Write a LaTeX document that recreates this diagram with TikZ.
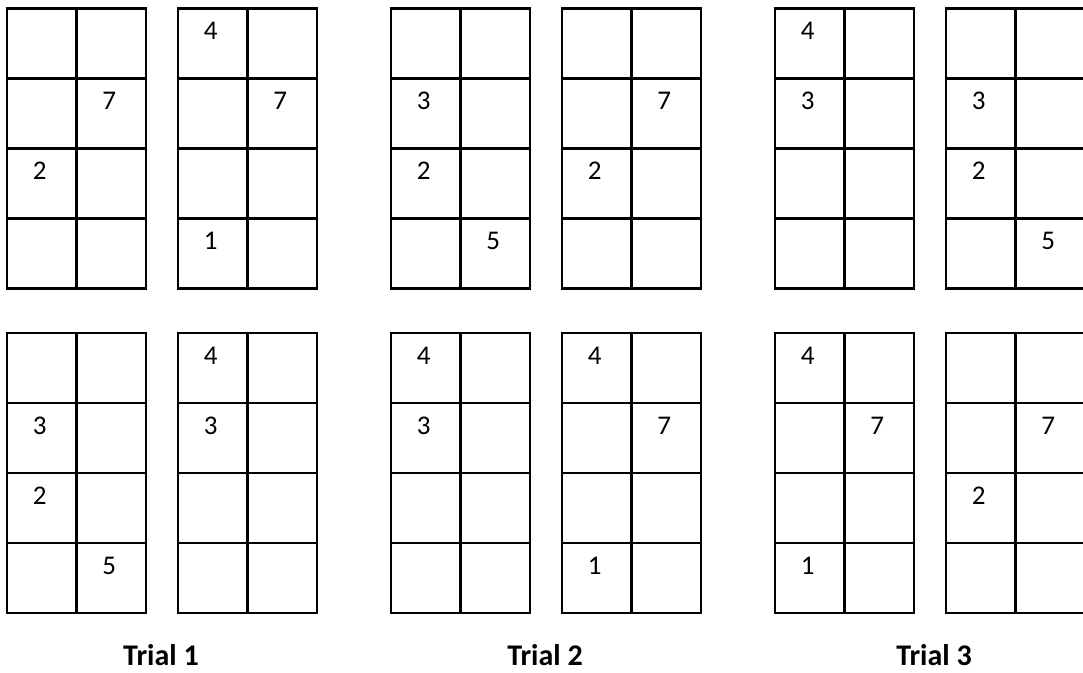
\documentclass[tikz,border=0pt]{standalone}
\usepackage{fontspec}
\setmainfont{Carlito}
\usetikzlibrary{calc}
\tikzset{
  gridline/.style={line width=2.3pt},
  digit/.style={anchor=base,inner sep=0pt,font=\fontsize{27}{32}\selectfont},
  triallabel/.style={anchor=base,inner sep=0pt,font=\fontsize{30}{34}\selectfont\bfseries}
}
% one 2x4 board, origin at its top left corner
\newcommand{\papan}[1]{%
  \draw[gridline] (#1) rectangle ++(139,280);
  \draw[gridline] ($(#1)+(69.5,0)$) -- ++(0,280);
  \foreach \r in {1,2,3} \draw[gridline] ($(#1)+(0,70*\r)$) -- ++(139,0);}
\newcommand{\angka}[4]{\node[digit] (#1-#2-#3) at ($(#1)+(69.5*#2-36.75,70*#3-39)$) {#4};}

\begin{document}
\begin{tikzpicture}[x=1pt,y=-1pt]
  \useasboundingbox (0,0) rectangle (1083,672);
  % top row
  \coordinate (A1) at (7,8.5);
  \coordinate (A2) at (178,8.5);
  \coordinate (A3) at (391,8.5);
  \coordinate (A4) at (562,8.5);
  \coordinate (A5) at (775,8.5);
  \coordinate (A6) at (946,8.5);
  % bottom row
  \coordinate (B1) at (7,333);
  \coordinate (B2) at (178,333);
  \coordinate (B3) at (391,333);
  \coordinate (B4) at (562,333);
  \coordinate (B5) at (775,333);
  \coordinate (B6) at (946,333);

  \foreach \g in {A1,A2,A3,A4,A5,A6,B1,B2,B3,B4,B5,B6} {\papan{\g}}

  \foreach \g/\c/\r/\v in {A1/2/2/7, A1/1/3/2,
      A2/1/1/4, A2/2/2/7, A2/1/4/1,
      A3/1/2/3, A3/1/3/2, A3/2/4/5,
      A4/2/2/7, A4/1/3/2,
      A5/1/1/4, A5/1/2/3,
      A6/1/2/3, A6/1/3/2, A6/2/4/5,
      B1/1/2/3, B1/1/3/2, B1/2/4/5,
      B2/1/1/4, B2/1/2/3,
      B3/1/1/4, B3/1/2/3,
      B4/1/1/4, B4/2/2/7, B4/1/4/1,
      B5/1/1/4, B5/2/2/7, B5/1/4/1,
      B6/2/2/7, B6/1/3/2}
    {\angka{\g}{\c}{\r}{\v}}

  \node[triallabel] (trial1) at (161,665) {Trial 1};
  \node[triallabel] (trial2) at (545,665) {Trial 2};
  \node[triallabel] (trial3) at (934,665) {Trial 3};
\end{tikzpicture}
\end{document}
